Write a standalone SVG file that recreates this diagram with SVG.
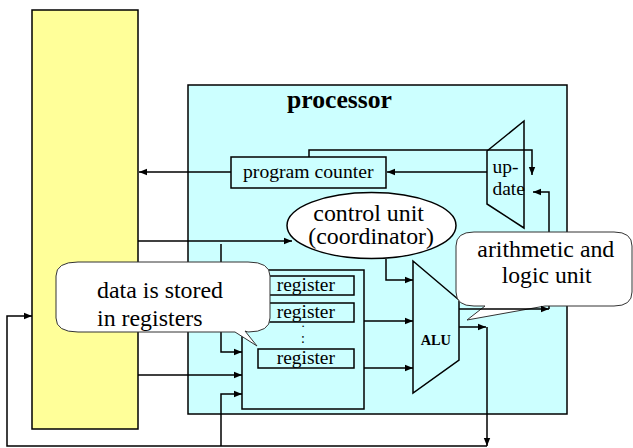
<svg xmlns="http://www.w3.org/2000/svg" width="633" height="448" viewBox="0 0 633 448">
<defs>
<marker id="ah" markerUnits="userSpaceOnUse" markerWidth="9" markerHeight="8" refX="8" refY="4" orient="auto">
<path d="M0,0.8 L8,4 L0,7.2 Z" fill="#000"/>
</marker>
<style>
.shape{stroke:#000;stroke-width:1.5}
.cyan{fill:#CCFFFF}
.con{fill:none;stroke:#000;stroke-width:1.5;marker-end:url(#ah)}
.bubble{fill:#fff;stroke:#333;stroke-width:1}
text{font-family:"Liberation Serif","Times New Roman",Times,Tinos,"Nimbus Roman","Nimbus Roman No9 L","Noto Serif","DejaVu Serif",serif;fill:#000}
.m{text-anchor:middle}
</style>
</defs>
<rect width="633" height="448" fill="#fff"/>
<g id="memory"><rect x="32" y="10" width="106" height="419" fill="#FFFF99" class="shape"/></g>
<g id="processor">
<rect x="188" y="85" width="379" height="329" class="shape cyan"/>
<text x="287" y="108" font-size="25.5" font-weight="bold" textLength="105" lengthAdjust="spacingAndGlyphs">processor</text>
</g>
<g id="program-counter">
<rect x="231" y="157" width="155" height="31" class="shape cyan"/>
<text x="243" y="178" font-size="19.7" textLength="130.5" lengthAdjust="spacingAndGlyphs">program counter</text>
</g>
<g id="update">
<polygon points="487,151 524,121 524,228 487,204" class="shape cyan"/>
<text x="492.5" y="173" font-size="19.5" textLength="26" lengthAdjust="spacingAndGlyphs">up-</text>
<text x="492.5" y="195" font-size="19.5" textLength="32.3" lengthAdjust="spacingAndGlyphs">date</text>
</g>
<g id="control-unit">
<ellipse cx="371.5" cy="225.5" rx="84.5" ry="33" fill="#fff" class="shape"/>
<text x="313.3" y="221" font-size="23" textLength="110.7" lengthAdjust="spacingAndGlyphs">control unit</text>
<text x="308.3" y="244" font-size="23" textLength="125.7" lengthAdjust="spacingAndGlyphs">(coordinator)</text>
</g>
<g id="registers">
<rect x="242" y="270" width="122" height="139" class="shape cyan"/>
<rect x="258" y="276" width="96" height="19" class="shape cyan" stroke-width="1.2"/>
<text x="276.7" y="291" font-size="19.5" textLength="58.3" lengthAdjust="spacingAndGlyphs">register</text>
<rect x="258" y="303" width="96" height="19" class="shape cyan" stroke-width="1.2"/>
<text x="276.7" y="318" font-size="19.5" textLength="58.3" lengthAdjust="spacingAndGlyphs">register</text>
<text x="303" y="327" class="m" font-size="13">.</text>
<text x="303" y="343" class="m" font-size="14">:</text>
<rect x="258" y="349" width="96" height="19" class="shape cyan" stroke-width="1.2"/>
<text x="276.7" y="364" font-size="19.5" textLength="58.3" lengthAdjust="spacingAndGlyphs">register</text>
</g>
<g id="alu">
<polygon points="413,261 459,300 459,360 413,393" class="shape cyan"/>
<text x="420.7" y="345" font-size="14.4" font-weight="bold" textLength="30.3" lengthAdjust="spacingAndGlyphs">ALU</text>
</g>
<g id="connectors">
<path d="M231,172 H139" class="con"/>
<path d="M309,157 V150 H532 V175" class="con"/>
<path d="M487,172 H387" class="con"/>
<path d="M549,309 V192 H533" class="con"/>
<path d="M138,241 H292" class="con"/>
<path d="M386,259 V280 H413" class="con"/>
<path d="M221,244 V352 H242" class="con"/>
<path d="M138,375 H242" class="con"/>
<path d="M364,321 H413" class="con"/>
<path d="M364,368 H413" class="con"/>
<path d="M459,327 H486" class="con"/>
<path d="M487,327 V446" class="con"/>
<path d="M487,446 H7 V316 H32" class="con"/>
<path d="M221,446 V394 H242" class="con"/>
</g>
<g id="bubble-registers">
<path d="M78,262 H248 Q270,262 270,276 V318 Q270,332 248,332 L245,331 L257,346 L235,332 H78 Q56,332 56,318 V276 Q56,262 78,262 Z" class="bubble"/>
<text x="97" y="298" font-size="23.8" textLength="126" lengthAdjust="spacingAndGlyphs">data is stored</text>
<text x="97" y="326" font-size="23.8" textLength="105.5" lengthAdjust="spacingAndGlyphs">in registers</text>
</g>
<g id="bubble-alu">
<path d="M474,232 H614 Q632,232 632,246 V292 Q632,306 614,306 H545 L467,320 L485,306 H474 Q456,306 456,292 V246 Q456,232 474,232 Z" class="bubble"/>
<text x="477.3" y="257" font-size="23.8" textLength="137" lengthAdjust="spacingAndGlyphs">arithmetic and</text>
<text x="501.7" y="283" font-size="23.8" textLength="90" lengthAdjust="spacingAndGlyphs">logic unit</text>
</g>
<g id="connectors-front">
<path d="M459,309 H549" class="con"/>
</g>
</svg>
